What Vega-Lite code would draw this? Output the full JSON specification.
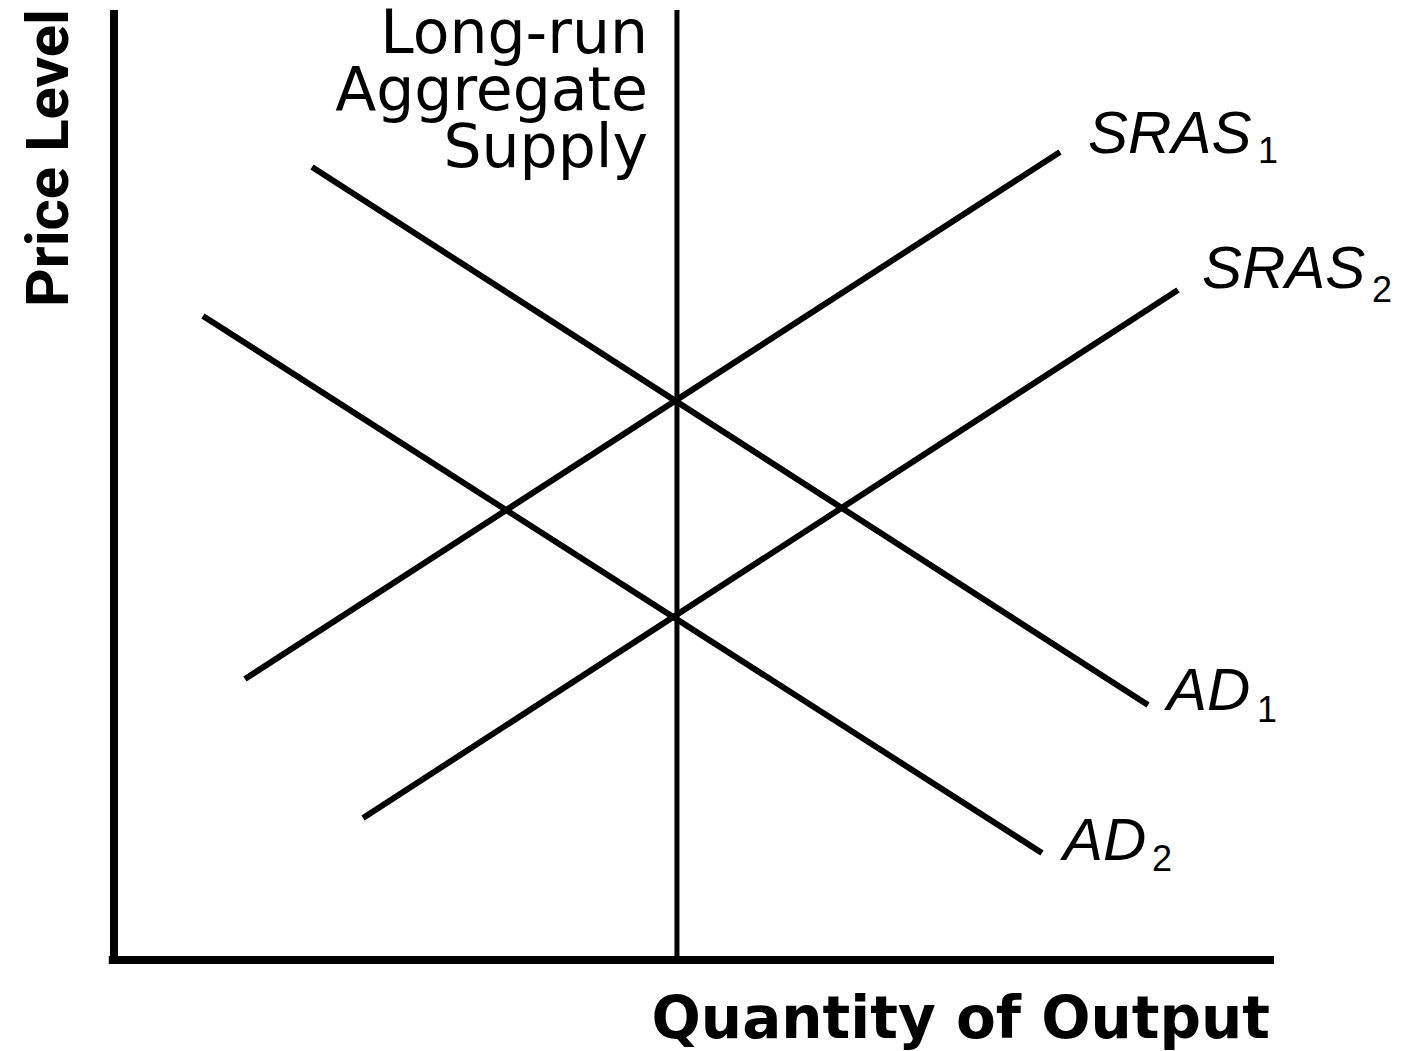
{
  "$schema": "https://vega.github.io/schema/vega-lite/v6.json",
  "width": 1416,
  "height": 1051,
  "autosize": {"type": "fit", "contains": "padding"},
  "padding": 0,
  "background": "white",
  "config": {"view": {"stroke": null}},
  "datasets": {
    "curves": [
      {"curve": "AD1", "ord": 1, "q": 17.07, "p": 83.47},
      {"curve": "AD1", "ord": 2, "q": 89.14, "p": 26.84},
      {"curve": "AD2", "ord": 1, "q": 7.67, "p": 67.79},
      {"curve": "AD2", "ord": 2, "q": 80.0, "p": 11.26},
      {"curve": "SRAS1", "ord": 1, "q": 11.29, "p": 29.58},
      {"curve": "SRAS1", "ord": 2, "q": 81.55, "p": 85.05},
      {"curve": "SRAS2", "ord": 1, "q": 21.47, "p": 14.95},
      {"curve": "SRAS2", "ord": 2, "q": 91.72, "p": 70.53}
    ],
    "rules": [
      {"name": "Price axis", "kind": "axis", "q": 0, "p": -0.4, "q2": 0, "p2": 100},
      {"name": "Quantity axis", "kind": "axis", "q": -0.45, "p": 0, "q2": 100, "p2": 0},
      {"name": "LRAS", "kind": "lras", "q": 48.53, "p": 0, "q2": 48.53, "p2": 100}
    ],
    "labels": [
      {"role": "curve", "text": "SRAS", "q": 83.97, "p": 84.95},
      {"role": "curve", "text": "SRAS", "q": 93.79, "p": 70.74},
      {"role": "curve", "text": "AD", "q": 90.78, "p": 26.32},
      {"role": "curve", "text": "AD", "q": 81.81, "p": 10.53},
      {"role": "sub", "text": "1", "q": 98.62, "p": 83.9},
      {"role": "sub", "text": "2", "q": 108.45, "p": 69.26},
      {"role": "sub", "text": "1", "q": 98.53, "p": 25.05},
      {"role": "sub", "text": "2", "q": 89.48, "p": 9.37},
      {"role": "lras", "text": "Long-run", "q": 46.03, "p": 95.47},
      {"role": "lras", "text": "Aggregate", "q": 46.03, "p": 89.47},
      {"role": "lras", "text": "Supply", "q": 46.03, "p": 83.47},
      {"role": "ytitle", "text": "Price Level", "q": -3.97, "p": 84.42},
      {"role": "xtitle", "text": "Quantity of Output", "q": 99.66, "p": -8.21}
    ]
  },
  "encoding": {
    "x": {"field": "q", "type": "quantitative", "scale": {"domain": [-9.828, 112.241], "nice": false, "zero": false}, "axis": null},
    "y": {"field": "p", "type": "quantitative", "scale": {"domain": [-9.579, 101.053], "nice": false, "zero": false}, "axis": null}
  },
  "layer": [
    {
      "data": {"name": "rules"},
      "transform": [{"filter": "datum.kind === 'axis'"}],
      "mark": {"type": "rule", "color": "black", "strokeWidth": 8},
      "encoding": {"x2": {"field": "q2"}, "y2": {"field": "p2"}}
    },
    {
      "data": {"name": "rules"},
      "transform": [{"filter": "datum.kind === 'lras'"}],
      "mark": {"type": "rule", "color": "black", "strokeWidth": 5},
      "encoding": {"x2": {"field": "q2"}, "y2": {"field": "p2"}}
    },
    {
      "data": {"name": "curves"},
      "mark": {"type": "line", "color": "black", "strokeWidth": 6},
      "encoding": {"detail": {"field": "curve"}, "order": {"field": "ord"}}
    },
    {
      "data": {"name": "labels"},
      "transform": [{"filter": "datum.role === 'curve'"}],
      "mark": {"type": "text", "font": "Liberation Sans", "fontStyle": "italic", "fontSize": 60, "align": "left", "baseline": "alphabetic", "color": "black"},
      "encoding": {"text": {"field": "text"}}
    },
    {
      "data": {"name": "labels"},
      "transform": [{"filter": "datum.role === 'sub'"}],
      "mark": {"type": "text", "font": "Liberation Sans", "fontSize": 36, "align": "left", "baseline": "alphabetic", "color": "black"},
      "encoding": {"text": {"field": "text"}}
    },
    {
      "data": {"name": "labels"},
      "transform": [{"filter": "datum.role === 'lras'"}],
      "mark": {"type": "text", "font": "DejaVu Sans", "fontSize": 60, "align": "right", "baseline": "alphabetic", "color": "black"},
      "encoding": {"text": {"field": "text"}}
    },
    {
      "data": {"name": "labels"},
      "transform": [{"filter": "datum.role === 'ytitle'"}],
      "mark": {"type": "text", "font": "Roboto", "fontWeight": "bold", "fontSize": 60, "angle": 270, "align": "center", "baseline": "alphabetic", "color": "black"},
      "encoding": {"text": {"field": "text"}}
    },
    {
      "data": {"name": "labels"},
      "transform": [{"filter": "datum.role === 'xtitle'"}],
      "mark": {"type": "text", "font": "DejaVu Sans", "fontWeight": "bold", "fontSize": 58, "align": "right", "baseline": "alphabetic", "color": "black"},
      "encoding": {"text": {"field": "text"}}
    }
  ]
}
